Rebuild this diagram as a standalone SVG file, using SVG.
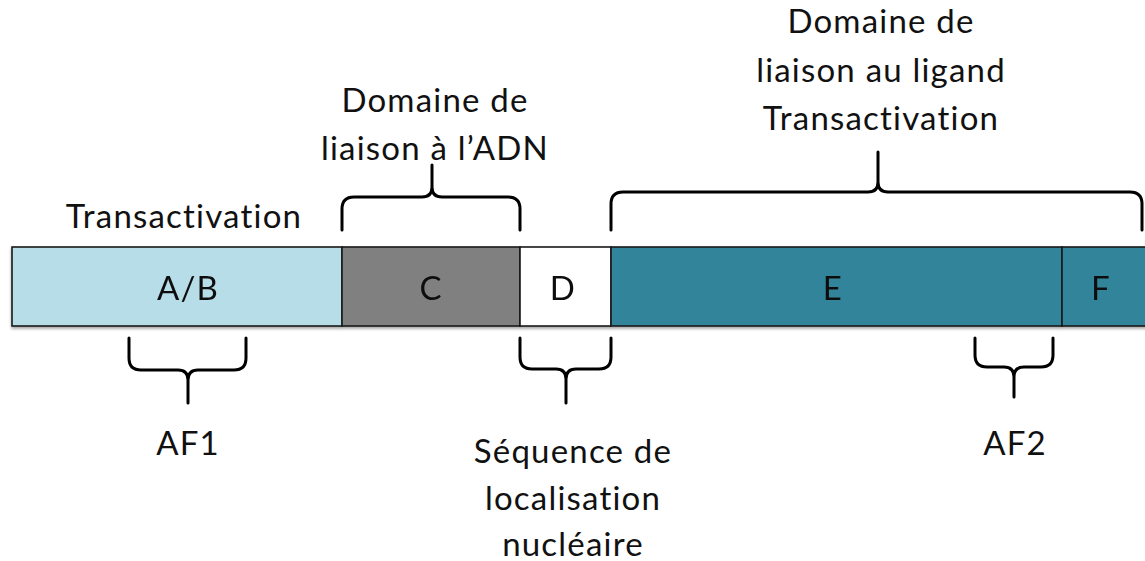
<svg xmlns="http://www.w3.org/2000/svg" width="1145" height="561" viewBox="0 0 1145 561">
  <style>
    .lbl { font-family: Lato, "Open Sans", "Liberation Sans", sans-serif; font-size: 33px; letter-spacing: 1.2px; fill: #111; text-anchor: middle; }
    .seg { stroke: #1a1a1a; stroke-width: 1.6; }
    .brace { fill: none; stroke: #000; stroke-width: 3; stroke-linejoin: round; stroke-linecap: round; }
  </style>
  <defs>
    <filter id="shadow" x="-5%" y="-20%" width="110%" height="150%">
      <feGaussianBlur in="SourceAlpha" stdDeviation="1.5"/>
      <feOffset dx="0" dy="2" result="b"/>
      <feComponentTransfer><feFuncA type="linear" slope="0.35"/></feComponentTransfer>
      <feMerge><feMergeNode/><feMergeNode in="SourceGraphic"/></feMerge>
    </filter>
  </defs>
  <rect width="1145" height="561" fill="#fff"/>

  <!-- protein domain bar -->
  <g id="bar" filter="url(#shadow)">
    <g id="domain-AB">
      <rect class="seg" x="12" y="247" width="330" height="79" fill="#b7dde8"/>
      <text class="lbl" x="188" y="300">A/B</text>
    </g>
    <g id="domain-C">
      <rect class="seg" x="342" y="247" width="178" height="79" fill="#808080"/>
      <text class="lbl" x="431" y="300">C</text>
    </g>
    <g id="domain-D">
      <rect class="seg" x="520" y="247" width="91" height="79" fill="#ffffff"/>
      <text class="lbl" x="563" y="300">D</text>
    </g>
    <g id="domain-E">
      <rect class="seg" x="611" y="247" width="451" height="79" fill="#31849b"/>
      <text class="lbl" x="833" y="300">E</text>
    </g>
    <g id="domain-F">
      <rect class="seg" x="1062" y="247" width="90" height="79" fill="#31849b"/>
      <text class="lbl" x="1101" y="300">F</text>
    </g>
  </g>

  <!-- braces -->
  <g id="connectors">
    <path class="brace" d="M342,230 V209 Q342,197 354,197 H422 Q432,197 432,187 V165 V187 Q432,197 442,197 H508 Q520,197 520,209 V230"/>
    <path class="brace" d="M611,230 V204 Q611,192 623,192 H868 Q878,192 878,182 V152 V182 Q878,192 888,192 H1130 Q1142,192 1142,204 V230"/>
    <path class="brace" d="M129,338 V358 Q129,370 141,370 H178 Q188,370 188,380 V403 V380 Q188,370 198,370 H234 Q246,370 246,358 V338"/>
    <path class="brace" d="M520,338 V357 Q520,369 532,369 H556 Q566,369 566,379 V403 V379 Q566,369 576,369 H599 Q611,369 611,357 V338"/>
    <path class="brace" d="M975,338 V355 Q975,367 987,367 H1004 Q1014,367 1014,377 V397 V377 Q1014,367 1024,367 H1041 Q1053,367 1053,355 V338"/>
  </g>

  <!-- annotations -->
  <g id="label-transactivation">
    <text class="lbl" x="184" y="228">Transactivation</text>
  </g>
  <g id="label-dbd">
    <text class="lbl" x="435" y="112">Domaine de</text>
    <text class="lbl" x="435" y="160">liaison à l’ADN</text>
  </g>
  <g id="label-lbd">
    <text class="lbl" x="881" y="33">Domaine de</text>
    <text class="lbl" x="881" y="82">liaison au ligand</text>
    <text class="lbl" x="881" y="130">Transactivation</text>
  </g>
  <g id="label-af1">
    <text class="lbl" x="188" y="455">AF1</text>
  </g>
  <g id="label-nls">
    <text class="lbl" x="573" y="463">Séquence de</text>
    <text class="lbl" x="573" y="510">localisation</text>
    <text class="lbl" x="573" y="556">nucléaire</text>
  </g>
  <g id="label-af2">
    <text class="lbl" x="1015" y="455">AF2</text>
  </g>
</svg>
